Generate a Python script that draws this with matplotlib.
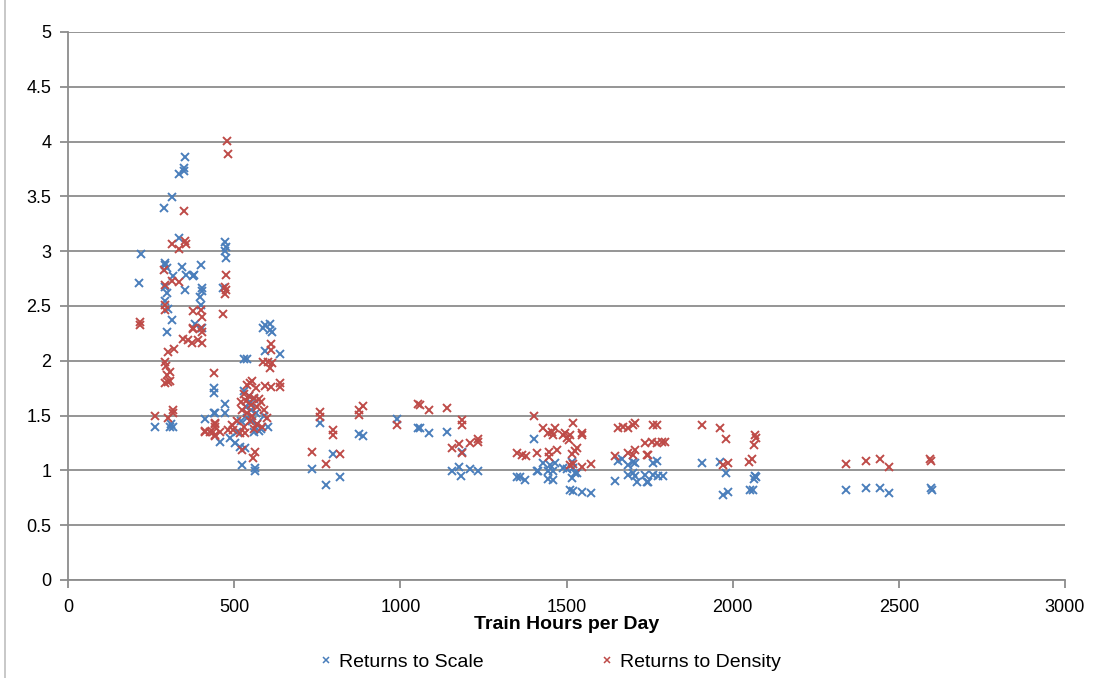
import matplotlib
matplotlib.use("Agg")
import matplotlib.pyplot as plt
from matplotlib.lines import Line2D

plt.rcParams['font.family'] = ['Liberation Sans', 'DejaVu Sans']

# Returns to Scale (blue)
scale_hours = [
    352, 350, 348, 334, 313, 289, 334, 220, 292, 292, 343, 400, 298, 214, 376, 379,
    355, 316, 352, 403, 403, 292, 298, 397, 292, 301, 400, 313, 382, 298, 403,
    472, 475, 472, 475, 467, 439, 439, 439, 262, 307, 316, 310, 412,
    593, 608, 608, 587, 614, 593, 638, 530, 539, 472, 442, 472, 457, 488, 503,
    518, 533, 524, 563, 563, 602,
    530, 545, 560, 535, 550, 565, 540, 555, 570, 580, 560, 575, 590, 548, 520, 510,
    758, 734, 797, 776, 818, 876, 888, 990, 1053, 1059, 1086, 1141, 1186, 1156,
    1177, 1183, 1210, 1234, 1351, 1360, 1375, 1402, 1411, 1429, 1450, 1465, 1444,
    1459, 1414, 1444, 1459, 1490, 1502, 1520, 1526, 1532, 1517, 1511, 1520, 1547,
    1574, 1517, 1646, 1655, 1667, 1685, 1700, 1706, 1685, 1700, 1706, 1712, 1736,
    1742, 1760, 1772, 1760, 1775, 1790, 1745, 1908, 1962, 1980, 1971, 1986, 2067,
    2070, 2064, 2052, 2061, 2341, 2401, 2443, 2471, 2597, 2600,
]
scale_values = [
    3.86, 3.76, 3.73, 3.70, 3.49, 3.39, 3.12, 2.97, 2.89, 2.87, 2.86, 2.87, 2.85, 2.71, 2.77, 2.78,
    2.78, 2.77, 2.65, 2.66, 2.64, 2.67, 2.62, 2.58, 2.55, 2.47, 2.51, 2.37, 2.34, 2.26, 2.30,
    3.08, 3.04, 3.00, 2.94, 2.66, 1.75, 1.71, 1.52, 1.40, 1.40, 1.40, 1.42, 1.47,
    2.33, 2.34, 2.28, 2.30, 2.26, 2.09, 2.06, 2.02, 2.02, 1.61, 1.52, 1.52, 1.26, 1.30, 1.25,
    1.21, 1.20, 1.05, 1.02, 0.99, 1.40,
    1.72, 1.68, 1.65, 1.58, 1.55, 1.52, 1.48, 1.45, 1.42, 1.38, 1.35, 1.36, 1.50, 1.62, 1.45, 1.35,
    1.43, 1.01, 1.15, 0.87, 0.94, 1.33, 1.31, 1.47, 1.39, 1.39, 1.34, 1.35, 1.17, 0.99,
    1.03, 0.95, 1.01, 0.99, 0.94, 0.94, 0.91, 1.29, 0.99, 1.07, 1.05, 1.07, 0.99,
    0.99, 0.99, 0.92, 0.91, 1.02, 1.01, 1.02, 0.98, 0.98, 1.08, 0.82, 0.81, 0.80,
    0.79, 0.93, 0.90, 1.09, 1.10, 1.05, 1.08, 1.07, 0.96, 0.98, 0.95, 0.89, 0.96,
    0.89, 1.07, 1.09, 0.96, 0.95, 0.95, 0.89, 1.07, 1.08, 0.98, 0.78, 0.80, 0.95,
    0.94, 0.92, 0.82, 0.82, 0.82, 0.84, 0.84, 0.79, 0.84, 0.82,
]

# Returns to Density (red)
density_hours = [
    478, 481, 349, 352, 355, 313, 334, 289, 313, 334, 292, 292, 292, 376, 400, 403,
    217, 217, 376, 400, 346, 361, 373, 391, 403, 376, 403, 301, 319, 292, 295, 307,
    298, 301, 307, 292, 439, 316, 316, 262, 301, 442, 412, 427, 442,
    475, 472, 475, 472, 467, 611, 611, 587, 602, 614, 608, 593, 611, 638, 638,
    442, 442, 412, 436, 457, 442, 482, 497, 494, 518, 533, 524, 563, 557,
    540, 548, 555, 565, 530, 545, 560, 575, 520, 535, 550, 568, 580, 525, 540, 555,
    590, 600, 510, 548, 570, 585, 530, 560,
    758, 758, 797, 797, 734, 818, 776, 876, 888, 876, 990, 1053, 1059, 1086, 1141,
    1186, 1186, 1156, 1177, 1186, 1210, 1234, 1234, 1351, 1366, 1378, 1402, 1411,
    1429, 1444, 1456, 1465, 1459, 1447, 1447, 1471, 1490, 1502, 1511, 1496, 1508,
    1520, 1547, 1547, 1517, 1526, 1532, 1511, 1520, 1547, 1574, 1646, 1655, 1670,
    1685, 1700, 1706, 1685, 1700, 1706, 1742, 1736, 1760, 1772, 1757, 1772, 1787,
    1796, 1745, 1908, 1962, 1980, 1971, 1986, 2067, 2070, 2064, 2058, 2049, 2341,
    2401, 2443, 2471, 2594, 2597,
]
density_values = [
    4.01, 3.89, 3.37, 3.09, 3.07, 3.07, 3.02, 2.83, 2.73, 2.72, 2.69, 2.51, 2.46, 2.45, 2.46, 2.40,
    2.35, 2.33, 2.30, 2.30, 2.20, 2.19, 2.16, 2.19, 2.16, 2.29, 2.26, 2.08, 2.11, 1.99, 1.95, 1.90,
    1.87, 1.81, 1.82, 1.80, 1.89, 1.55, 1.52, 1.50, 1.48, 1.43, 1.36, 1.35, 1.32,
    2.78, 2.67, 2.65, 2.61, 2.43, 2.15, 2.10, 1.99, 1.99, 1.98, 1.93, 1.77, 1.76, 1.80, 1.76,
    1.42, 1.40, 1.35, 1.35, 1.35, 1.31, 1.37, 1.37, 1.41, 1.34, 1.34, 1.19, 1.17, 1.11,
    1.78, 1.80, 1.82, 1.75, 1.70, 1.68, 1.66, 1.65, 1.62, 1.63, 1.60, 1.58, 1.62, 1.55, 1.52, 1.50,
    1.55, 1.48, 1.45, 1.45, 1.42, 1.40, 1.40, 1.38,
    1.53, 1.49, 1.37, 1.32, 1.17, 1.15, 1.06, 1.55, 1.59, 1.51, 1.41, 1.61, 1.60, 1.55, 1.57,
    1.46, 1.41, 1.20, 1.24, 1.16, 1.25, 1.29, 1.26, 1.16, 1.14, 1.13, 1.50, 1.16,
    1.39, 1.34, 1.35, 1.39, 1.32, 1.17, 1.12, 1.19, 1.32, 1.30, 1.32, 1.34, 1.28,
    1.43, 1.34, 1.32, 1.15, 1.18, 1.20, 1.05, 1.06, 1.03, 1.06, 1.13, 1.39, 1.40,
    1.39, 1.41, 1.43, 1.16, 1.14, 1.19, 1.14, 1.25, 1.41, 1.41, 1.26, 1.25, 1.26,
    1.26, 1.14, 1.41, 1.39, 1.29, 1.05, 1.07, 1.32, 1.30, 1.23, 1.10, 1.08, 1.06,
    1.09, 1.10, 1.03, 1.10, 1.09,
]

x_ticks = [0, 500, 1000, 1500, 2000, 2500, 3000]
y_ticks = [0, 0.5, 1, 1.5, 2, 2.5, 3, 3.5, 4, 4.5, 5]
y_tick_labels = ['0', '0.5', '1', '1.5', '2', '2.5', '3', '3.5', '4', '4.5', '5']

blue = '#4A7EBB'
red = '#BE4B48'
grid_color = '#8C8C8C'

fig = plt.figure(figsize=(11.01, 6.78), dpi=100)
ax = fig.add_axes([68 / 1101, 1 - 580 / 678, (1065 - 68) / 1101, (580 - 32) / 678])

# Scatter series
ax.plot(scale_hours, scale_values, linestyle='none', marker='x', markersize=6,
        markeredgewidth=1.4, color=blue, label='Returns to Scale', zorder=3)
ax.plot(density_hours, density_values, linestyle='none', marker='x', markersize=6,
        markeredgewidth=1.4, color=red, label='Returns to Density', zorder=3)

# Axes, ticks and gridlines
ax.set_xlim(0, 3000)
ax.set_ylim(0, 5)
ax.set_xticks(x_ticks)
ax.set_yticks(y_ticks)
ax.set_yticklabels(y_tick_labels)
ax.yaxis.grid(True, color=grid_color, linewidth=1.3)
ax.set_axisbelow(True)
for side in ['top', 'right']:
    ax.spines[side].set_visible(False)
for side in ['left', 'bottom']:
    ax.spines[side].set_color(grid_color)
    ax.spines[side].set_linewidth(1.3)
ax.tick_params(axis='both', colors=grid_color, length=6, width=1.3,
               labelsize=13, labelcolor='black')
ax.tick_params(axis='x', pad=8)
ax.tick_params(axis='y', pad=6)

ax.set_xlabel('Train Hours per Day', fontsize=14, fontweight='bold', labelpad=0)

# Legend under the axis title
handles = [
    Line2D([], [], linestyle='none', marker='x', markersize=4, markeredgewidth=1.1,
           color=blue, label='Returns to Scale'),
    Line2D([], [], linestyle='none', marker='x', markersize=4, markeredgewidth=1.1,
           color=red, label='Returns to Density'),
]
fig.legend(handles=handles, loc='center', bbox_to_anchor=(0.5, 1 - 662 / 678),
           ncol=2, frameon=False, fontsize=14, handlelength=0.6, handletextpad=0.4,
           columnspacing=6)

# chart area border on the left edge
fig.add_artist(Line2D([5 / 1101, 5 / 1101], [0, 1], color='#BFBFBF', linewidth=1.2))

fig.savefig('out.png', dpi=100)
